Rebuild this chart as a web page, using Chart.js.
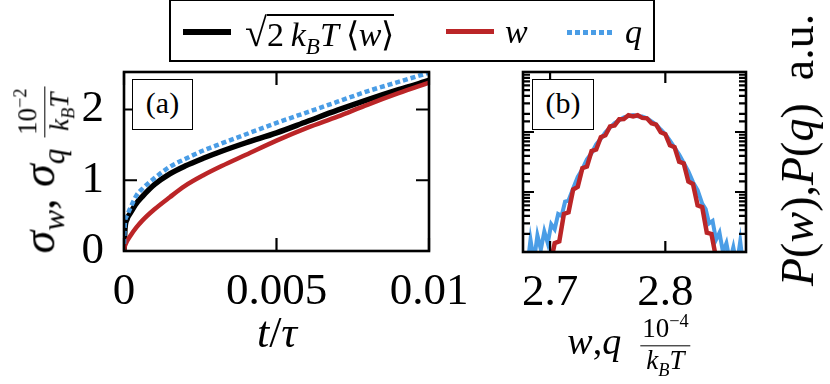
<!DOCTYPE html>
<html>
<head>
<meta charset="utf-8">
<script src="https://cdn.jsdelivr.net/npm/chart.js@4.4.1/dist/chart.umd.min.js"></script>
<style>
  body { margin: 0; background: #fff; }
  #wrap { position: relative; width: 830px; height: 384px; overflow: hidden; font-family: 'Liberation Serif', 'Times New Roman', serif; color: #000; }
  canvas { position: absolute; top: 0; }
  .lbl { position: absolute; white-space: nowrap; line-height: 1; }
  .ctr { transform: translate(-50%, -50%); }
  .rot { transform: translate(-50%, -50%) rotate(-90deg); }
  sub, sup { font-size: 0.68em; line-height: 0; }
  .frac { display: inline-flex; flex-direction: column; align-items: center; vertical-align: middle; font-size: 27px; line-height: 1.1; }
  .frac .num { border-bottom: 1.6px solid #000; padding: 0 2px 1px; }
  .sample { position: absolute; }
  .panel-tag { position: absolute; border: 1.4px solid #000; box-sizing: border-box; font-size: 30px; text-align: center; line-height: 46px; background: #fff; }
</style>
</head>
<body>
<div id="wrap">
  <canvas id="chartA" width="480" height="384" style="left:0"></canvas>
  <canvas id="chartB" width="350" height="384" style="left:480px"></canvas>

  <div style="position:absolute;left:169px;top:-1px;width:486px;height:63px;border:2.5px solid #000;box-sizing:border-box"></div>
  <div class="sample" style="left:183px;top:29px;width:48px;height:6px;background:#000"></div>
  <span class="lbl" style="left:245px;top:13px;font-size:34px"><span style="font-size:40px">√</span><span style="border-top:2px solid #000">2&#8201;<i>k</i><sub><i>B</i></sub><i>T</i>&#8201;⟨<i>w</i>⟩</span></span>
  <div class="sample" style="left:446px;top:29px;width:48px;height:5px;background:#bb2527"></div>
  <span class="lbl" style="left:505px;top:15px;font-size:34px"><i>w</i></span>
  <div class="sample" style="left:567px;top:30px;width:48px;height:4.5px;background:repeating-linear-gradient(90deg,#4a9de6 0 5px,transparent 5px 8px)"></div>
  <span class="lbl" style="left:625px;top:15px;font-size:34px"><i>q</i></span>

  <div class="panel-tag" style="left:132px;top:79px;width:61px;height:51px">(a)</div>
  <div class="panel-tag" style="left:532px;top:79px;width:62px;height:51px">(b)</div>

  <span class="lbl rot" style="left:44px;top:170px;font-size:46px"><i>σ</i><sub><i>w</i></sub>, <i>σ</i><sub><i>q</i></sub>&nbsp;<span class="frac"><span class="num">10<sup>−2</sup></span><span><i>k</i><sub><i>B</i></sub><i>T</i></span></span></span>
  <span class="lbl ctr" style="left:277px;top:333px;font-size:44px"><i>t</i>/<i>τ</i></span>
  <span class="lbl ctr" style="left:629px;top:345px;font-size:38px"><i>w</i>,<i>q</i>&nbsp;&nbsp;<span class="frac"><span class="num">10<sup>−4</sup></span><span><i>k</i><sub><i>B</i></sub><i>T</i></span></span></span>
  <span class="lbl rot" style="left:798px;top:150px;font-size:46px"><i>P</i>(<i>w</i>),<i>P</i>(<i>q</i>)&nbsp; a.u.</span>
</div>

<script>
// panel (a): widths of the distributions vs time
const tTau = [0, 0.00003, 0.0001, 0.0002, 0.0004, 0.0006, 0.001, 0.0015, 0.002, 0.0026, 0.0032, 0.004, 0.005, 0.006, 0.007, 0.008, 0.009, 0.01]
const sigmaSqrt = [0, 0.3, 0.45, 0.53, 0.67, 0.77, 0.94, 1.09, 1.2, 1.31, 1.41, 1.53, 1.67, 1.83, 1.99, 2.14, 2.28, 2.41]
const sigmaW = [0, 0.07, 0.14, 0.21, 0.33, 0.43, 0.59, 0.76, 0.92, 1.07, 1.2, 1.36, 1.56, 1.74, 1.9, 2.07, 2.23, 2.38]
const sigmaQ = [0.1, 0.4, 0.5, 0.6, 0.78, 0.88, 1.03, 1.19, 1.3, 1.42, 1.52, 1.65, 1.81, 1.96, 2.11, 2.26, 2.39, 2.52]
const tTicks = [0, 0.005, 0.01]
const tTickLabels = ["0", "0.005", "0.01"]
const sigmaTicks = [0, 1, 2]

// panel (b): histograms of w and q
const wBins = [2.700, 2.704, 2.708, 2.712, 2.716, 2.720, 2.724, 2.728, 2.732, 2.736, 2.740, 2.744, 2.748, 2.752, 2.756, 2.760, 2.764, 2.768, 2.772, 2.776, 2.780, 2.784, 2.788, 2.792, 2.796, 2.800, 2.804, 2.808, 2.812, 2.816, 2.820, 2.824, 2.828, 2.832, 2.836, 2.840, 2.844, 2.848]
const pW = [0.6, 1.4, 1.5, 4.3, 4.6, 11, 12.2, 25, 26.5, 48, 51, 82, 88, 124, 129, 163, 165, 190, 181, 190, 172, 169, 140, 133, 99, 92, 60, 56, 32, 30, 15, 13.6, 6, 5.6, 2.1, 2, 0.8, 0.4]
const qBins = [2.680, 2.683, 2.686, 2.689, 2.692, 2.695, 2.698, 2.701, 2.704, 2.707, 2.710, 2.713, 2.716, 2.720, 2.724, 2.728, 2.732, 2.736, 2.740, 2.744, 2.748, 2.752, 2.756, 2.760, 2.764, 2.768, 2.772, 2.776, 2.780, 2.784, 2.788, 2.792, 2.796, 2.800, 2.804, 2.808, 2.812, 2.816, 2.820, 2.824, 2.828, 2.832, 2.835, 2.838, 2.841, 2.844, 2.847, 2.850, 2.853, 2.856, 2.859, 2.862, 2.865, 2.868]
const pQ = [0.5, 1.6, 0.7, 1.9, 1.1, 2.2, 1.4, 2.9, 2.4, 4.3, 4.0, 6.9, 7.2, 11.5, 17.8, 24, 35, 44.5, 62, 77, 99, 118, 141, 157, 176, 184, 192, 183, 181, 170, 150, 133, 110, 92, 72, 55, 42, 30.5, 22, 14.6, 10.8, 6.4, 5.2, 3.0, 3.3, 1.6, 2.1, 1.0, 1.4, 0.7, 1.2, 0.6, 1.5, 0.5]
const wqTicks = [2.7, 2.8]
const wqTickLabels = ["2.7", "2.8"]

const black = "#000000"
const red = "#bb2527"
const blue = "#4a9de6"
const tickFont = { family: "'Liberation Serif', 'Times New Roman', serif", size: 45 }

const pts = (xs, ys) => xs.map((x, i) => ({ x: x, y: ys[i] }))

// frame + inward ticks on all four sides, like the original
const frameTicks = {
  id: "frameTicks",
  afterDatasetsDraw(chart, args, opts) {
    const { ctx, chartArea: a, scales } = chart
    ctx.save()
    ctx.strokeStyle = "#000"
    ctx.lineWidth = 2.2
    ctx.beginPath()
    scales.x.ticks.forEach((t) => {
      const px = scales.x.getPixelForValue(t.value)
      ctx.moveTo(px, a.bottom)
      ctx.lineTo(px, a.bottom - opts.major)
      ctx.moveTo(px, a.top)
      ctx.lineTo(px, a.top + opts.major)
    })
    scales.y.ticks.forEach((t) => {
      const py = scales.y.getPixelForValue(t.value)
      let len = opts.major
      if (opts.log) {
        const p = Math.log10(t.value)
        if (Math.abs(p - Math.round(p)) > 1e-6) len = opts.minor
      }
      ctx.moveTo(a.left, py)
      ctx.lineTo(a.left + len, py)
      ctx.moveTo(a.right, py)
      ctx.lineTo(a.right - len, py)
    })
    ctx.stroke()
    ctx.lineWidth = 2.6
    ctx.strokeRect(a.left, a.top, a.right - a.left, a.bottom - a.top)
    ctx.restore()
  },
}

const noAxisLines = { grid: { display: false }, border: { display: false } }

new Chart(document.getElementById("chartA"), {
  type: "line",
  data: {
    datasets: [
      { label: "q", data: pts(tTau, sigmaQ), borderColor: blue, borderWidth: 4.5, borderDash: [5, 3], order: 0 },
      { label: "w", data: pts(tTau, sigmaW), borderColor: red, borderWidth: 4.5, order: 1 },
      { label: "sqrt", data: pts(tTau, sigmaSqrt), borderColor: black, borderWidth: 5.5, order: 2 },
    ],
  },
  options: {
    responsive: false,
    devicePixelRatio: 1,
    animation: false,
    layout: { padding: { top: 72, right: 51, left: 0, bottom: 0 } },
    elements: { point: { radius: 0 }, line: { cubicInterpolationMode: "monotone", fill: false } },
    plugins: { legend: { display: false }, tooltip: { enabled: false }, frameTicks: { major: 13 } },
    scales: {
      x: {
        type: "linear",
        min: 0,
        max: 0.01,
        ...noAxisLines,
        afterBuildTicks: (s) => { s.ticks = tTicks.map((v) => ({ value: v })) },
        afterFit: (s) => { s.height = 133 },
        ticks: { font: tickFont, color: "#000", padding: 6, maxRotation: 0, autoSkip: false,
          callback: (v) => tTickLabels[tTicks.indexOf(v)] },
      },
      y: {
        min: 0,
        max: 2.53,
        ...noAxisLines,
        afterBuildTicks: (s) => { s.ticks = sigmaTicks.map((v) => ({ value: v })) },
        afterFit: (s) => { s.width = 124 },
        ticks: { font: tickFont, color: "#000", padding: 12, autoSkip: false },
      },
    },
  },
  plugins: [frameTicks],
})

new Chart(document.getElementById("chartB"), {
  type: "line",
  data: {
    datasets: [
      { label: "w", data: pts(wBins, pW), borderColor: red, borderWidth: 4.5, order: 0 },
      { label: "q", data: pts(qBins, pQ), borderColor: blue, borderWidth: 4, order: 1 },
    ],
  },
  options: {
    responsive: false,
    devicePixelRatio: 1,
    animation: false,
    layout: { padding: { top: 72, right: 84, left: 0, bottom: 0 } },
    elements: { point: { radius: 0 }, line: { tension: 0, fill: false } },
    plugins: { legend: { display: false }, tooltip: { enabled: false }, frameTicks: { major: 11, minor: 7, log: true } },
    scales: {
      x: {
        type: "linear",
        min: 2.6765,
        max: 2.87,
        ...noAxisLines,
        afterBuildTicks: (s) => { s.ticks = wqTicks.map((v) => ({ value: v })) },
        afterFit: (s) => { s.height = 132 },
        ticks: { font: tickFont, color: "#000", padding: 6, maxRotation: 0, autoSkip: false,
          callback: (v) => wqTickLabels[wqTicks.indexOf(v)] },
      },
      y: {
        type: "logarithmic",
        min: 1,
        max: 1000,
        ...noAxisLines,
        afterFit: (s) => { s.width = 43 },
        ticks: { display: false, autoSkip: false },
      },
    },
  },
  plugins: [frameTicks],
})
</script>
</body>
</html>
